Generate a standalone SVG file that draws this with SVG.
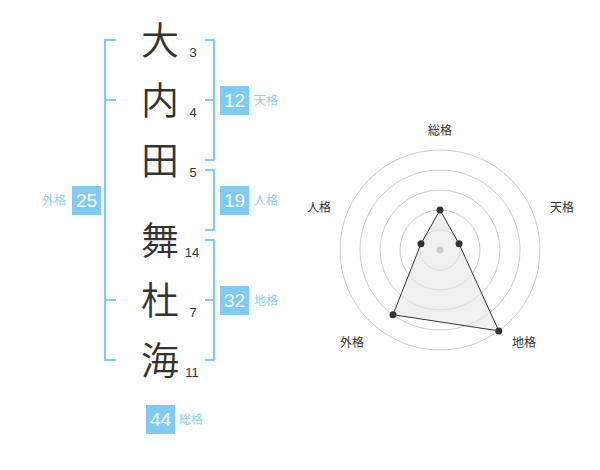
<svg xmlns="http://www.w3.org/2000/svg" width="600" height="470" viewBox="0 0 600 470">
<style>
text{font-family:"Liberation Sans","Noto Sans CJK JP",sans-serif}
.kanji{font-family:"Noto Sans CJK JP",sans-serif;font-size:38px;font-weight:350;fill:#333;text-anchor:middle}
.num{font-size:13px;fill:#333;text-anchor:middle}
.br{fill:none;stroke:#80cbf6;stroke-width:2}
.box{fill:#80cbf6}
.bt{font-size:19px;fill:#fff;text-anchor:middle}
.lb{font-family:"Noto Sans CJK JP",sans-serif;font-size:12px;fill:#8dd0f5}
.ring{fill:none;stroke:#cccccc;stroke-width:1}
.rl{font-family:"Noto Sans CJK JP",sans-serif;font-size:12px;fill:#333;text-anchor:middle}
.dot{fill:#333}
</style>
<rect width="600" height="470" fill="#fff"/>
<g id="name">
<text class="kanji" x="160" y="54">大</text>
<text class="kanji" x="160" y="114">内</text>
<text class="kanji" x="160" y="174">田</text>
<text class="kanji" x="160" y="254">舞</text>
<text class="kanji" x="160" y="314">杜</text>
<text class="kanji" x="160" y="374">海</text>
<text class="num" x="193" y="57">3</text>
<text class="num" x="193" y="117">4</text>
<text class="num" x="193" y="177">5</text>
<text class="num" x="192" y="257">14</text>
<text class="num" x="193" y="317">7</text>
<text class="num" x="192" y="377">11</text>
</g>
<g id="connectors">
<path class="br" d="M116,40 H105 V360 H116 M105,100 H116 M105,300 H116"/>
<path class="br" d="M205,40 H214 V160 H205 M205,100 H214"/>
<path class="br" d="M205,170 H214 V230 H205"/>
<path class="br" d="M205,240 H214 V360 H205 M205,300 H214"/>
</g>
<g id="tenkaku">
<rect class="box" x="220" y="86" width="29" height="29"/>
<text class="bt" x="234.5" y="107">12</text>
<text class="lb" x="254" y="105">天格</text>
</g>
<g id="jinkaku">
<rect class="box" x="220" y="186" width="29" height="29"/>
<text class="bt" x="234.5" y="207">19</text>
<text class="lb" x="254" y="205">人格</text>
</g>
<g id="chikaku">
<rect class="box" x="220" y="286" width="29" height="29"/>
<text class="bt" x="234.5" y="307">32</text>
<text class="lb" x="254" y="305">地格</text>
</g>
<g id="gaikaku">
<rect class="box" x="72" y="186" width="29" height="29"/>
<text class="bt" x="86.5" y="207">25</text>
<text class="lb" x="42" y="205">外格</text>
</g>
<g id="soukaku">
<rect class="box" x="146" y="405" width="29" height="29"/>
<text class="bt" x="160.5" y="426">44</text>
<text class="lb" x="179" y="424">総格</text>
</g>
<g id="radar">
<circle class="ring" cx="440" cy="250" r="100"/>
<circle class="ring" cx="440" cy="250" r="80"/>
<circle class="ring" cx="440" cy="250" r="60"/>
<circle class="ring" cx="440" cy="250" r="40"/>
<circle class="ring" cx="440" cy="250" r="20"/>
<polygon points="440,210 459,243.8 498.8,330.9 393,314.7 421,243.8" fill="#e6e6e6" fill-opacity="0.6" stroke="#333" stroke-width="1"/>
<circle cx="440" cy="250" r="3.5" fill="#cccccc"/>
<circle class="dot" cx="440" cy="210" r="3.5"/>
<circle class="dot" cx="459" cy="243.8" r="3.5"/>
<circle class="dot" cx="498.8" cy="330.9" r="3.5"/>
<circle class="dot" cx="393" cy="314.7" r="3.5"/>
<circle class="dot" cx="421" cy="243.8" r="3.5"/>
<text class="rl" x="440" y="135">総格</text>
<text class="rl" x="562" y="212">天格</text>
<text class="rl" x="524" y="347">地格</text>
<text class="rl" x="352" y="347">外格</text>
<text class="rl" x="319" y="212">人格</text>
</g>
</svg>
